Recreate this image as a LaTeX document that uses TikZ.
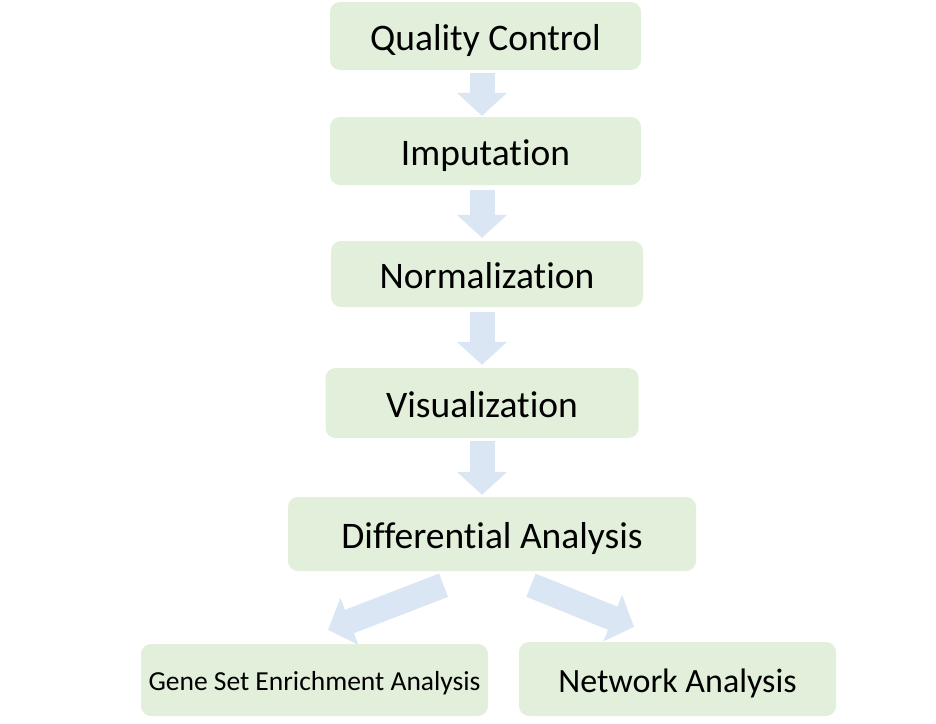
\documentclass[tikz,border=0pt]{standalone}
\usepackage{fontspec}
\setmainfont{Carlito}[Ligatures=NoCommon]
\usetikzlibrary{arrows.meta,positioning}
\definecolor{stagegreen}{RGB}{226,239,218}
\definecolor{flowblue}{RGB}{218,230,244}
\tikzset{
    stage/.style={rounded corners=10pt, fill=stagegreen, draw=none,
        text height=28pt, text depth=0pt, font=\fontsize{37.5}{44}\selectfont}, % the green boxes
    flow/.style={draw=flowblue, line width=25pt,
        -{Triangle[length=23pt,width=49pt]}}, % the wide pale arrows
}
\begin{document}
\begin{tikzpicture}[x=1pt,y=-1pt]
  \useasboundingbox (0,0) rectangle (936,723);

  \node[stage, minimum width=311pt, minimum height=68pt] (qc)   at (485.5,36)  {Quality Control};
  \node[stage, minimum width=311pt, minimum height=68pt] (imp)  at (485.5,151) {Imputation};
  \node[stage, minimum width=312pt, minimum height=66pt] (norm) at (487,274)   {Normalization};
  \node[stage, minimum width=313pt, minimum height=70pt] (vis)  at (482,403)   {Visualization};
  \node[stage, minimum width=408pt, minimum height=74pt] (diff) at (492,534)   {Differential Analysis};
  \node[stage, minimum width=347pt, minimum height=72pt, text height=20pt,
        font=\fontsize{27.5}{32}\selectfont] (gsea) at (314.5,680) {Gene Set Enrichment Analysis};
  \node[stage, minimum width=317pt, minimum height=74pt, text height=26pt,
        font=\fontsize{34}{40}\selectfont] (net)  at (677.5,679) {Network Analysis};

  \coordinate (spine) at (482,0);
  \draw[flow, shorten <=3pt, shorten >=1pt] (spine |- qc.south)   -- (spine |- imp.north);
  \draw[flow, shorten <=5pt, shorten >=3pt] (spine |- imp.south)  -- (spine |- norm.north);
  \draw[flow, shorten <=5pt, shorten >=3pt] (spine |- norm.south) -- (spine |- vis.north);
  \draw[flow, shorten <=3pt, shorten >=2pt] (spine |- vis.south)  -- (spine |- diff.north);
  \draw[flow] ([shift={(-48.5,14)}]diff.south) -- ([shift={(13.5,-14)}]gsea.north);
  \draw[flow] ([shift={(39,14)}]diff.south)    -- ([shift={(-43.5,-15)}]net.north);
\end{tikzpicture}
\end{document}
